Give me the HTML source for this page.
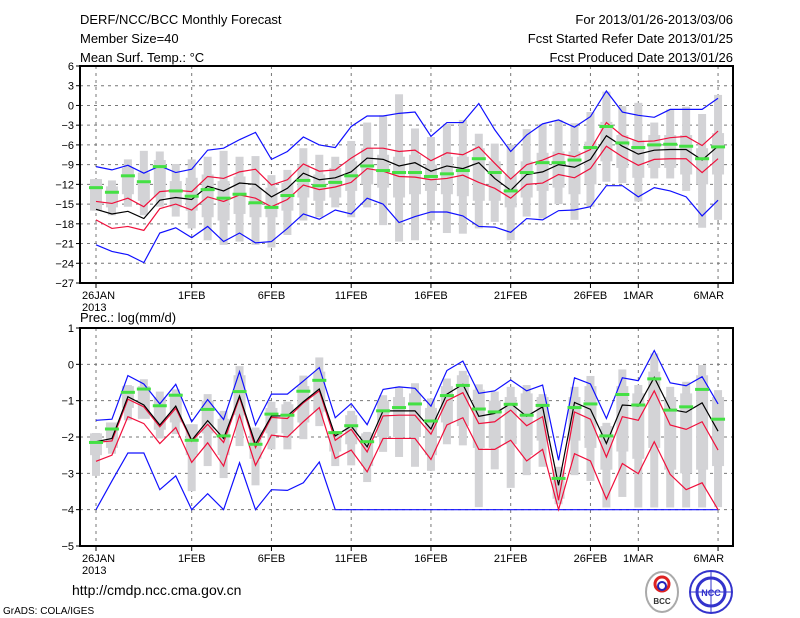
<!DOCTYPE html>
<html><head><meta charset="utf-8"><style>
html,body{margin:0;padding:0;background:#fff;}
svg{display:block;font-family:"Liberation Sans",sans-serif;}
</style></head><body>
<svg id="chart" width="800" height="618" viewBox="0 0 800 618" xmlns="http://www.w3.org/2000/svg">
<rect width="800" height="618" fill="#fff"/>
<g font-size="13" fill="#000">
<text x="80" y="24">DERF/NCC/BCC Monthly Forecast</text>
<text x="80" y="43">Member Size=40</text>
<text x="80" y="62">Mean Surf. Temp.: °C</text>
<text x="733" y="24" text-anchor="end">For 2013/01/26-2013/03/06</text>
<text x="733" y="43" text-anchor="end">Fcst Started Refer Date 2013/01/25</text>
<text x="733" y="62" text-anchor="end">Fcst Produced Date 2013/01/26</text>
</g>
<text x="80" y="322" font-size="13">Prec.: log(mm/d)</text>
<g id="top"></g>
<g id="bot"></g>
<text x="72" y="595" font-size="14">http://cmdp.ncc.cma.gov.cn</text>
<text x="3" y="614" font-size="10">GrADS: COLA/IGES</text>
<g>
<ellipse cx="662" cy="592" rx="16" ry="20" fill="#fff" stroke="#aaa" stroke-width="2"/>
<circle cx="662" cy="584" r="7" fill="none" stroke="#d22" stroke-width="3"/>
<circle cx="662" cy="586" r="4" fill="none" stroke="#22b" stroke-width="2"/>
<text x="662" y="604" font-size="8" text-anchor="middle" font-weight="bold" fill="#333">BCC</text>
</g>
<g>
<circle cx="711" cy="592" r="21" fill="#fff" stroke="#33c" stroke-width="2"/>
<circle cx="711" cy="592" r="14" fill="none" stroke="#33c" stroke-width="3"/>
<path d="M690 592h42M711 571v42" stroke="#33c" stroke-width="1"/>
<text x="711" y="596" font-size="9" text-anchor="middle" font-weight="bold" fill="#33c">NCC</text>
</g>
</svg>
<script>
// ---- Temperature panel data (day 0 = 26JAN) ----
const dateLabels = ["26JAN","1FEB","6FEB","11FEB","16FEB","21FEB","26FEB","1MAR","6MAR"];
const dateDays = [0,6,11,16,21,26,31,34,39];
const tempTicks = [6,3,0,-3,-6,-9,-12,-15,-18,-21,-24,-27];
const precTicks = [1,0,-1,-2,-3,-4,-5];
const tMean = [-15.8,-16.5,-16.1,-17.2,-14.4,-14.0,-14.3,-12.3,-13.0,-11.8,-12.0,-13.9,-12.6,-10.3,-11.3,-11.0,-10.1,-8.0,-8.2,-9.2,-8.7,-10.0,-9.2,-9.6,-8.7,-11.1,-12.9,-10.5,-10.1,-9.0,-9.4,-8.2,-4.6,-6.2,-7.4,-6.8,-6.7,-6.7,-8.3,-6.2];
const tRedHi = [-14.6,-14.9,-14.1,-15.4,-13.1,-12.9,-13.1,-10.8,-11.1,-10.1,-9.7,-12.1,-11.3,-8.9,-10.0,-9.8,-8.0,-6.5,-6.5,-7.0,-6.8,-8.4,-7.2,-7.5,-6.3,-8.8,-11.2,-9.0,-8.3,-7.3,-7.8,-6.7,-2.6,-4.6,-5.5,-5.4,-4.9,-4.7,-6.1,-3.9];
const tRedLo = [-17.4,-18.7,-18.4,-19.0,-15.7,-15.0,-15.9,-13.9,-14.6,-13.6,-14.1,-15.4,-14.3,-12.1,-12.8,-12.4,-11.7,-9.6,-10.0,-10.8,-10.9,-11.3,-11.1,-10.6,-11.7,-12.6,-14.1,-12.0,-11.8,-10.5,-11.0,-9.6,-6.2,-7.8,-9.1,-8.2,-8.1,-8.1,-10.2,-8.1];
const tMax = [-9.3,-9.8,-9.1,-10.3,-9.2,-10.2,-9.7,-6.8,-6.5,-5.2,-4.1,-8.2,-7.0,-4.8,-6.0,-6.4,-3.2,-1.6,-1.6,-1.2,-1.0,-4.7,-2.6,-2.6,0.3,-3.7,-7.0,-4.5,-2.8,-2.2,-3.3,-1.7,2.2,-1.0,-1.5,-1.8,-0.6,-0.6,-0.6,1.1];
const tMin = [-21.2,-22.2,-22.7,-23.9,-19.4,-18.6,-20.1,-18.4,-20.7,-19.4,-20.9,-20.7,-18.7,-16.5,-17.3,-15.9,-16.5,-14.1,-15.0,-17.8,-16.9,-16.2,-16.2,-16.8,-18.4,-18.5,-19.3,-17.2,-17.4,-16.0,-15.9,-15.4,-12.2,-12.2,-13.9,-12.5,-13.0,-13.9,-16.8,-14.4];
const tObs = [-12.5,-13.2,-10.7,-11.6,-9.3,-13.0,-13.8,-12.8,-14.1,-13.5,-14.8,-15.5,-13.7,-11.4,-12.2,-11.7,-10.7,-9.2,-9.9,-10.2,-10.2,-10.8,-10.4,-9.9,-8.1,-10.2,-13.0,-10.2,-8.7,-8.7,-8.3,-6.4,-3.2,-5.7,-6.4,-6.0,-5.9,-6.2,-8.1,-6.3];
const tBarHi = [-11.2,-11.4,-8.2,-6.9,-7.0,-8.9,-8.2,-7.8,-6.9,-7.8,-7.7,-10.6,-9.8,-6.5,-7.5,-7.8,-5.4,-2.6,-1.5,1.7,-3.5,-4.8,-2.8,-2.2,-4.3,-5.8,-6.0,-3.6,-2.8,-2.2,-2.7,-1.0,2.1,-0.1,0.4,-2.6,-0.6,-0.2,-1.3,1.6];
const tBarLo = [-16.0,-16.7,-15.4,-16.7,-15.4,-16.9,-18.7,-20.5,-21.2,-20.7,-21.2,-21.6,-19.7,-17.5,-17.0,-15.5,-17.0,-15.5,-18.2,-20.7,-20.5,-17.5,-19.4,-19.5,-18.7,-17.7,-20.5,-16.9,-17.2,-15.0,-17.4,-15.4,-11.6,-11.8,-14.6,-11.1,-11.1,-13.0,-18.6,-17.4];
const tBoxHi = [-11.2,-12.3,-9.5,-10.2,-8.3,-11.5,-11,-10.5,-11.5,-10.8,-12.5,-12.5,-11.8,-9,-10.5,-9.5,-8.5,-6.5,-7.5,-7.8,-7.5,-9,-7.8,-7.8,-6.5,-8.5,-10.5,-8.5,-7.2,-7,-7,-5.5,-2.5,-4.5,-5.3,-4.5,-4.5,-4.5,-6.5,-4.2];
const tBoxLo = [-16,-15.5,-13.5,-14.5,-14,-15.5,-16,-17,-17.5,-16.5,-17,-17,-16,-14,-14.5,-14,-13,-12,-12.5,-14,-13.5,-13,-13.5,-13.8,-14.5,-14.5,-15.5,-14,-13,-12.5,-13.5,-12,-8.5,-9.5,-11,-9.5,-9.5,-10.5,-12,-10.5];
// ---- Precipitation panel data ----
const pMean = [-2.13,-2.04,-0.89,-1.12,-1.67,-1.15,-2.09,-1.55,-2.04,-0.87,-2.20,-1.42,-1.42,-1.03,-0.68,-1.97,-1.70,-2.27,-1.28,-1.28,-1.28,-1.78,-0.82,-0.55,-1.43,-1.35,-1.08,-1.43,-1.17,-3.33,-1.05,-1.24,-2.18,-1.12,-1.15,-0.36,-1.24,-1.32,-1.06,-1.84];
const pRedHi = [-2.15,-2.11,-0.96,-1.17,-1.72,-1.21,-2.12,-1.65,-2.15,-0.91,-2.29,-1.46,-1.49,-1.06,-0.73,-2.09,-1.79,-2.41,-1.42,-1.40,-1.40,-1.92,-1.00,-0.78,-1.63,-1.58,-1.26,-1.69,-1.44,-3.74,-1.31,-1.51,-2.55,-1.44,-1.54,-0.73,-1.67,-1.79,-1.58,-2.36];
const pRedLo = [-2.67,-2.50,-1.44,-1.63,-2.18,-1.74,-2.70,-2.16,-2.80,-1.40,-2.78,-1.95,-2.00,-1.58,-1.19,-2.59,-2.36,-2.96,-2.04,-2.04,-2.04,-2.62,-1.67,-1.47,-2.34,-2.34,-2.09,-2.66,-2.34,-4.0,-2.46,-2.66,-3.71,-2.73,-3.01,-2.13,-3.03,-3.45,-3.26,-4.0];
const pMax = [-1.54,-1.51,-0.31,-0.54,-1.09,-0.55,-1.58,-0.97,-1.52,-0.20,-1.67,-0.82,-0.82,-0.46,-0.09,-1.47,-1.08,-1.66,-0.69,-0.62,-0.66,-1.15,-0.17,0.09,-0.80,-0.73,-0.43,-0.73,-0.57,-2.64,-0.37,-0.54,-1.49,-0.37,-0.45,0.38,-0.51,-0.59,-0.34,-1.09];
const pMin = [-4.0,-3.21,-2.44,-2.44,-3.45,-3.07,-4.0,-3.56,-4.0,-2.71,-4.0,-3.45,-3.47,-3.26,-2.69,-4,-4,-4,-4,-4,-4,-4,-4,-4,-4,-4,-4,-4,-4,-4,-4,-4,-4,-4,-4,-4,-4,-4,-4,-4];
const pObs = [-2.15,-1.78,-0.77,-0.68,-1.14,-0.85,-2.09,-1.24,-1.97,-0.75,-2.20,-1.37,-1.40,-0.74,-0.44,-1.88,-1.69,-2.13,-1.28,-1.19,-1.09,-1.56,-0.86,-0.58,-1.23,-1.31,-1.10,-1.40,-1.13,-3.14,-1.19,-1.09,-1.97,-0.83,-1.12,-0.40,-1.26,-1.17,-0.69,-1.51];
const pBarHi = [-1.89,-1.77,-0.57,-0.41,-0.75,-0.69,-1.65,-0.82,-1.28,-0.05,-1.74,-1.03,-1.03,-0.31,0.19,-1.84,-1.28,-1.86,-0.85,-0.62,-0.52,-0.94,-0.39,-0.18,-0.55,-0.75,-0.62,-0.57,-0.82,-2.82,-0.62,-0.32,-1.61,-0.14,-0.57,0.30,-0.62,-0.48,-0.02,-0.71];
const pBarLo = [-3.07,-2.46,-1.54,-1.35,-2.04,-1.92,-3.49,-2.80,-3.13,-2.25,-3.33,-2.34,-2.34,-2.06,-1.70,-2.80,-2.78,-3.24,-2.41,-2.55,-2.82,-2.93,-2.20,-2.23,-3.93,-2.89,-3.40,-3.05,-2.82,-3.85,-3.05,-3.21,-3.94,-3.65,-3.94,-3.94,-3.94,-3.94,-3.94,-3.93];
const pBoxHi = [-1.9,-1.6,-0.6,-0.6,-0.9,-0.8,-1.65,-1.0,-1.5,-0.3,-1.8,-1.2,-1.1,-0.6,-0.2,-1.9,-1.4,-1.9,-1.0,-0.9,-0.8,-1.2,-0.6,-0.3,-0.7,-1.0,-0.9,-0.8,-0.9,-2.9,-0.9,-0.6,-1.7,-0.6,-0.8,-0.2,-0.9,-0.8,-0.3,-0.9];
const pBoxLo = [-2.5,-2.3,-1.2,-1.5,-1.8,-1.6,-2.5,-1.9,-2.5,-1.4,-2.6,-1.9,-1.9,-1.6,-1.3,-2.4,-2.2,-2.8,-2.0,-2.0,-2.0,-2.5,-1.6,-1.7,-2.3,-2.3,-2.2,-2.5,-2.1,-3.7,-2.1,-2.3,-2.9,-2.4,-2.6,-2.3,-2.9,-3.0,-2.9,-2.8];

const NS = "http://www.w3.org/2000/svg";
const X0 = 80, X1 = 733;
function xDay(d){ return 96 + 15.95*d; }
function mk(tag, attrs, parent){ const e=document.createElementNS(NS,tag); for(const k in attrs) e.setAttribute(k,attrs[k]); parent.appendChild(e); return e; }

function panel(g, top, bottom, vmax, vmin, ticks, data){
  const yS = v => top + (vmax - v)*(bottom-top)/(vmax-vmin);
  // gridlines
  ticks.forEach(t=>{
    const y=yS(t);
    if(t!==vmax && t!==vmin){
      const l=mk('line',{x1:X0,x2:X1,y1:y,y2:y,stroke:'#777','stroke-dasharray':'3,4','stroke-width':1},g);
      
      
    }
    const tk=mk('line',{x1:X0-4,x2:X0,y1:y,y2:y,stroke:'#000'},g);
    
    
    const tx=mk('text',{x:X0-6,y:y+4,'font-size':11,'text-anchor':'end'},g);
    tx.textContent=String(t).replace('-','\u2212');
    
    
  });
  dateDays.forEach((d,i)=>{
    const x=xDay(d);
    const l=mk('line',{x1:x,x2:x,y1:top,y2:bottom,stroke:'#777','stroke-dasharray':'3,4','stroke-width':1},g);
    
    
    const tk=mk('line',{x1:x,x2:x,y1:bottom,y2:bottom+5,stroke:'#000'},g);
    
    
    const tx=mk('text',{x:i===0?x-14:(i===dateDays.length-1?x+6:x),y:bottom+16,'font-size':11,'text-anchor':i===0?'start':(i===dateDays.length-1?'end':'middle')},g);
    tx.textContent=dateLabels[i];
    
    
  });
  const yr=mk('text',{x:xDay(0)-14,y:bottom+28,'font-size':11},g);
  yr.textContent='2013';
  
  
  // gray bars
  data.barHi.forEach((v,i)=>{
    const x=xDay(i);
    const b=mk('rect',{x:x-4,y:yS(v),width:8,height:yS(data.barLo[i])-yS(v),fill:'#d3d3d6'},g);
    
    
    const bx=mk('rect',{x:x-6,y:yS(data.boxHi[i]),width:12,height:yS(data.boxLo[i])-yS(data.boxHi[i]),fill:'#d3d3d6'},g);
    
    
  });
  const line=(arr,col,name)=>{
    const p=mk('polyline',{points:arr.map((v,i)=>xDay(i)+','+yS(v)).join(' '),fill:'none',stroke:col,'stroke-width':1.2},g);
    
    
  };
  line(data.max,'#1010ff','max-line');
  line(data.min,'#1010ff','min-line');
  line(data.redHi,'#f0103c','upper-line');
  line(data.redLo,'#f0103c','lower-line');
  line(data.mean,'#000','ensemble-mean-line');
  data.obs.forEach((v,i)=>{
    const r=mk('rect',{x:xDay(i)-7,y:yS(v)-1.5,width:14,height:3,fill:'#44e044'},g);
    
    
  });
  const f=mk('rect',{x:X0,y:top,width:X1-X0,height:bottom-top,fill:'none',stroke:'#000','stroke-width':2},g);
  
  
}
panel(document.getElementById('top'),66,283,6,-27,tempTicks,
  {mean:tMean,redHi:tRedHi,redLo:tRedLo,max:tMax,min:tMin,obs:tObs,barHi:tBarHi,barLo:tBarLo,boxHi:tBoxHi,boxLo:tBoxLo});
panel(document.getElementById('bot'),328,546,1,-5,precTicks,
  {mean:pMean,redHi:pRedHi,redLo:pRedLo,max:pMax,min:pMin,obs:pObs,barHi:pBarHi,barLo:pBarLo,boxHi:pBoxHi,boxLo:pBoxLo});
</script>
</body></html>
